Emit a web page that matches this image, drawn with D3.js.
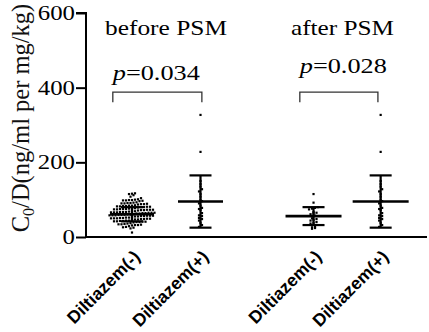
<!DOCTYPE html>
<html>
<head>
<meta charset="utf-8">
<script src="https://cdn.jsdelivr.net/npm/d3@7"></script>
<style>
  body { margin: 0; background: #fff; }
  svg { display: block; }
</style>
</head>
<body>
<div id="chart"></div>
<script>
// groups in drawing order
const groups = ["before-", "before+", "after-", "after+"];
const groupLabels = ["Diltiazem(-)", "Diltiazem(+)", "Diltiazem(-)", "Diltiazem(+)"];
const periodLabels = ["before PSM", "after PSM"];
const pLabels = ["0.034", "0.028"];
const yTicks = [0, 200, 400, 600];

// mean and SD
const means = [61, 95, 56, 95];
const sds = [19, 70, 24, 70];

// individual points (ng/ml per mg/kg)
const beforeMinus = [
  112, 115, 117, 116,
  104, 108,
  96, 97, 98, 99, 100, 101, 98, 99,
  87, 88, 89, 90, 91, 92, 88, 90, 91, 93,
  79, 80, 81, 82, 83, 84, 85, 80, 82, 83, 84, 81,
  71, 72, 73, 74, 75, 76, 77, 72, 73, 74, 75, 76, 73, 75,
  63, 64, 65, 66, 67, 68, 69, 64, 65, 66, 67, 68, 63, 65, 67, 66,
  55, 56, 57, 58, 59, 60, 61, 56, 57, 58, 59, 60, 55, 57, 59, 58,
  47, 48, 49, 50, 51, 52, 53, 48, 49, 50, 51, 52, 47, 50,
  39, 40, 41, 42, 43, 44, 45, 40, 41, 42, 43, 44,
  31, 32, 33, 34, 35, 36, 37, 32, 34,
  23, 25, 26, 27, 29,
  12
];
const beforePlus = [327, 228, 150, 142, 135, 128, 122, 115, 108, 100, 96, 90, 84,
  78, 75, 72, 64, 58, 56, 51, 48, 44, 38, 32, 27];
const afterMinus = [115, 92, 80, 78, 76, 74, 67, 65, 63, 61, 57, 50, 48, 46, 44,
  40, 38, 36, 28, 26, 24, 22];
const afterPlus = [327, 228, 150, 142, 135, 128, 122, 115, 108, 100, 96, 90, 84,
  78, 75, 72, 64, 58, 56, 51, 48, 44, 38, 32, 27];

const series = [beforeMinus, beforePlus, afterMinus, afterPlus];

// layout
const W = 429, H = 332;
const slots = [0, 1, 2.65, 3.63];
const meanWidths = [44, 45, 56, 56];
const capWidth = 22;
const serif = "'Liberation Serif', 'Times New Roman', serif";

const svg = d3.select("#chart").append("svg")
  .attr("width", W).attr("height", H);

const y = d3.scaleLinear().domain([0, 600]).range([237, 13]);
const x = d3.scaleLinear().domain([0, 1]).range([132, 200.5]);

// y axis
const yAxis = svg.append("g")
  .attr("transform", "translate(86,0)")
  .call(d3.axisLeft(y).tickValues(yTicks).tickSize(10).tickFormat(""));
yAxis.select(".domain").attr("stroke", "#000").attr("stroke-width", 2)
  .attr("d", `M-10,${y(600)}H0V${y(0)}`);
yAxis.selectAll(".tick line").attr("stroke", "#000").attr("stroke-width", 2);

svg.append("g").selectAll("text")
  .data(yTicks)
  .join("text")
  .attr("x", 75)
  .attr("y", (d) => y(d))
  .attr("dy", "0.35em")
  .attr("text-anchor", "end")
  .style("font-family", serif)
  .attr("font-size", 20)
  .attr("textLength", (d) => String(d).length * 12.4)
  .attr("lengthAdjust", "spacingAndGlyphs")
  .text((d) => d);

// x axis line
svg.append("line")
  .attr("x1", 86).attr("x2", 427)
  .attr("y1", y(0)).attr("y2", y(0))
  .attr("stroke", "#000").attr("stroke-width", 2);

// y label
const yl = svg.append("text")
  .attr("transform", `translate(29,${118}) rotate(-90)`)
  .attr("text-anchor", "middle")
  .style("font-family", serif)
  .attr("font-size", 24.5)
  .attr("fill", "#111");
yl.append("tspan").text("C");
yl.append("tspan").attr("font-size", 16).attr("dy", 5).text("0");
yl.append("tspan").attr("dy", -5).text("/D(ng/ml per mg/kg)");

// dots: bin by value, spread rows horizontally
const binner = d3.bin().thresholds(d3.range(2, 400, 8));
series.forEach((vals, i) => {
  const cx = x(slots[i]);
  const pts = [];
  binner(vals).forEach((b) => {
    const row = b.slice().sort(d3.ascending);
    row.forEach((v, k) => {
      pts.push({ v, px: cx + (k - (row.length - 1) / 2) * 3 });
    });
  });
  svg.append("g").selectAll("rect")
    .data(pts)
    .join("rect")
    .attr("x", (d) => d.px - 1.1)
    .attr("y", (d) => y(d.v) - 1.1)
    .attr("width", 2.2)
    .attr("height", 2.2)
    .attr("fill", "#000");
});

// mean and SD bars
groups.forEach((g, i) => {
  const cx = x(slots[i]);
  const gEl = svg.append("g").attr("stroke", "#000").attr("stroke-width", 2.2);
  gEl.append("line")
    .attr("x1", cx).attr("x2", cx)
    .attr("y1", y(means[i] - sds[i])).attr("y2", y(means[i] + sds[i]));
  [means[i] - sds[i], means[i] + sds[i]].forEach((v) => {
    gEl.append("line")
      .attr("x1", cx - capWidth / 2).attr("x2", cx + capWidth / 2)
      .attr("y1", y(v)).attr("y2", y(v));
  });
  gEl.append("line")
    .attr("x1", cx - meanWidths[i] / 2).attr("x2", cx + meanWidths[i] / 2)
    .attr("y1", y(means[i])).attr("y2", y(means[i]))
    .attr("stroke-width", 2.6);
});

// group labels
svg.append("g").selectAll("text")
  .data(groupLabels)
  .join("text")
  .attr("transform", (d, i) => `translate(${x(slots[i]) + 9},${258}) rotate(-45)`)
  .attr("text-anchor", "end")
  .style("font-family", "'Liberation Sans', Arial, sans-serif")
  .attr("font-weight", "bold")
  .attr("font-size", 17.5)
  .text((d) => d);

// period titles
const titleX = [166, 342.5];
const titleLen = [122, 103];
svg.append("g").selectAll("text")
  .data(periodLabels)
  .join("text")
  .attr("x", (d, i) => titleX[i])
  .attr("y", 35)
  .attr("text-anchor", "middle")
  .style("font-family", serif)
  .attr("font-size", 22)
  .attr("textLength", (d, i) => titleLen[i])
  .attr("lengthAdjust", "spacingAndGlyphs")
  .text((d) => d);

// significance brackets
const brackets = [
  { from: -0.28, to: 1.02, top: 388, pY: 80 },
  { from: 2.45, to: 3.59, top: 388, pY: 73 }
];
brackets.forEach((b, i) => {
  const x0 = x(b.from), x1 = x(b.to);
  svg.append("path")
    .attr("d", `M${x0},${y(361)}V${y(b.top)}H${x1}V${y(361)}`)
    .attr("fill", "none")
    .attr("stroke", "#333")
    .attr("stroke-width", 1.3);
  const t = svg.append("text")
    .attr("x", x0)
    .attr("y", b.pY)
    .style("font-family", serif)
    .attr("font-size", 21.5)
    .attr("textLength", 87)
    .attr("lengthAdjust", "spacingAndGlyphs");
  t.append("tspan").attr("font-style", "italic").text("p");
  t.append("tspan").text("=" + pLabels[i]);
});
</script>
</body>
</html>
